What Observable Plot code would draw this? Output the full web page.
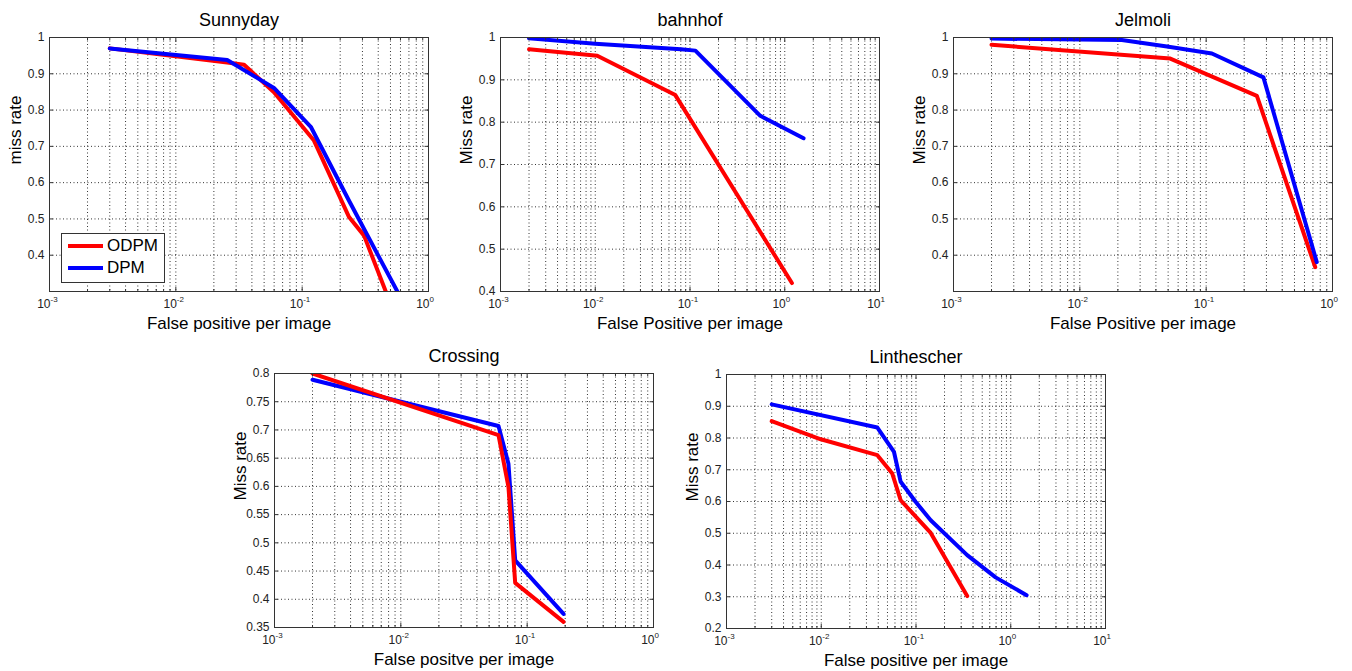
<!DOCTYPE html>
<html>
<head>
<meta charset="utf-8">
<script src="https://cdn.jsdelivr.net/npm/d3@7"></script>
<script src="https://cdn.jsdelivr.net/npm/@observablehq/plot@0.6"></script>
<style>
  html, body { margin: 0; padding: 0; background: #fff; }
  #root { position: relative; width: 1352px; height: 671px; overflow: hidden; font-family: "Liberation Sans", Arial, sans-serif; }
  .panel { position: absolute; }
  .legend { position: absolute; border: 1px solid #333; background: #fff; font-size: 17px; color: #000; }
  .legend .row { position: absolute; left: 6px; display: flex; align-items: center; }
  .legend .sw { width: 35px; height: 4px; margin-right: 4px; }
</style>
</head>
<body>
<div id="root"></div>
<script>
// ---------- data ----------
const series = ["ODPM", "DPM"];
const seriesColors = ["#ff0000", "#0000ff"];

const sunnyTitle = "Sunnyday";
const sunnyYTicks = [0.4, 0.5, 0.6, 0.7, 0.8, 0.9, 1];
const sunnyOdpmX = [0.003, 0.0255, 0.0347, 0.0598, 0.124, 0.235, 0.309, 0.459];
const sunnyOdpmY = [0.970, 0.931, 0.925, 0.849, 0.716, 0.505, 0.454, 0.300];
const sunnyDpmX = [0.003, 0.0255, 0.0598, 0.117, 0.235, 0.567];
const sunnyDpmY = [0.970, 0.938, 0.861, 0.754, 0.550, 0.300];

const bahnTitle = "bahnhof";
const bahnYTicks = [0.4, 0.5, 0.6, 0.7, 0.8, 0.9, 1];
const bahnOdpmX = [0.002, 0.0105, 0.070, 1.19];
const bahnOdpmY = [0.972, 0.957, 0.864, 0.420];
const bahnDpmX = [0.002, 0.01, 0.08, 0.114, 0.552, 1.58];
const bahnDpmY = [0.998, 0.985, 0.972, 0.969, 0.815, 0.762];

const jelTitle = "Jelmoli";
const jelYTicks = [0.4, 0.5, 0.6, 0.7, 0.8, 0.9, 1];
const jelOdpmX = [0.002, 0.052, 0.252, 0.73];
const jelOdpmY = [0.980, 0.942, 0.839, 0.367];
const jelDpmX = [0.002, 0.0215, 0.049, 0.111, 0.284, 0.751];
const jelDpmY = [0.997, 0.993, 0.975, 0.956, 0.890, 0.381];

const crossTitle = "Crossing";
const crossYTicks = [0.35, 0.4, 0.45, 0.5, 0.55, 0.6, 0.65, 0.7, 0.75, 0.8];
const crossOdpmX = [0.002, 0.0593, 0.0711, 0.0804, 0.194];
const crossOdpmY = [0.800, 0.691, 0.599, 0.429, 0.360];
const crossDpmX = [0.002, 0.0593, 0.0711, 0.0804, 0.194];
const crossDpmY = [0.789, 0.707, 0.640, 0.469, 0.374];

const linTitle = "Linthescher";
const linYTicks = [0.2, 0.3, 0.4, 0.5, 0.6, 0.7, 0.8, 0.9, 1];
const linOdpmX = [0.003, 0.0099, 0.0391, 0.0562, 0.0689, 0.143, 0.347];
const linOdpmY = [0.853, 0.796, 0.746, 0.688, 0.604, 0.501, 0.302];
const linDpmX = [0.003, 0.0391, 0.0586, 0.0689, 0.099, 0.143, 0.347, 0.692, 1.47];
const linDpmY = [0.906, 0.833, 0.756, 0.662, 0.599, 0.541, 0.431, 0.361, 0.305];

// ---------- layout ----------
const FW = 379, FH = 254, mL = 55, mT = 30, mR = 12, mB = 42;
const panels = [
  {title: sunnyTitle, ylabel: "miss rate", xlabel: "False positive per image", xdom: [1e-3, 1], ydom: [0.3, 1], yticks: sunnyYTicks,
   lines: [[sunnyOdpmX, sunnyOdpmY, 0], [sunnyDpmX, sunnyDpmY, 1]], L: 49, T: 37},
  {title: bahnTitle, ylabel: "Miss rate", xlabel: "False Positive per image", xdom: [1e-3, 10], ydom: [0.4, 1], yticks: bahnYTicks,
   lines: [[bahnOdpmX, bahnOdpmY, 0], [bahnDpmX, bahnDpmY, 1]], L: 500, T: 37},
  {title: jelTitle, ylabel: "Miss rate", xlabel: "False Positive per image", xdom: [1e-3, 1], ydom: [0.3, 1], yticks: jelYTicks,
   lines: [[jelOdpmX, jelOdpmY, 0], [jelDpmX, jelDpmY, 1]], L: 953, T: 37},
  {title: crossTitle, ylabel: "Miss rate", xlabel: "False positve per image", xdom: [1e-3, 1], ydom: [0.35, 0.8], yticks: crossYTicks,
   lines: [[crossDpmX, crossDpmY, 1], [crossOdpmX, crossOdpmY, 0]], L: 274, T: 373},
  {title: linTitle, ylabel: "Miss rate", xlabel: "False positive per image", xdom: [1e-3, 10], ydom: [0.2, 1], yticks: linYTicks,
   lines: [[linOdpmX, linOdpmY, 0], [linDpmX, linDpmY, 1]], L: 726, T: 374}
];

const root = document.getElementById("root");
const ink = "#222";
const axisInk = "#333";
const gridStyle = {stroke: "#000", strokeOpacity: 0.8, strokeDasharray: "1,2.5", strokeWidth: 1};
const fmtY = d => String(+d.toFixed(2));

function makePanel(p) {
  const e0 = Math.round(Math.log10(p.xdom[0])), e1 = Math.round(Math.log10(p.xdom[1]));
  const majors = d3.range(e0, e1 + 1).map(e => Math.pow(10, e));
  const minors = [];
  for (let e = e0; e < e1; e++) for (let k = 2; k <= 9; k++) minors.push(k * Math.pow(10, e));
  const gridXs = minors.concat(majors.slice(1, -1));
  const gridYs = p.yticks.filter(v => v > p.ydom[0] && v < p.ydom[1]);

  const lineMarks = p.lines.map(([xs, ys, si]) =>
    Plot.line(xs.map((x, i) => ({x, y: ys[i], s: series[si]})),
      {x: "x", y: "y", stroke: seriesColors[si], strokeWidth: 4, clip: true, strokeLinejoin: "round"}));

  const tickOpts = {tickFormat: () => "", stroke: axisInk, fill: "none", label: null};
  const svg = Plot.plot({
    width: mL + FW + mR,
    height: mT + FH + mB,
    marginLeft: mL, marginRight: mR, marginTop: mT, marginBottom: mB,
    style: {fontFamily: "'Liberation Sans', Arial, sans-serif", background: "#fff", overflow: "visible"},
    x: {type: "log", domain: p.xdom, axis: null},
    y: {type: "linear", domain: p.ydom, axis: null},
    marks: [
      Plot.gridX(gridXs, gridStyle),
      Plot.gridY(gridYs, gridStyle),
      ...lineMarks,
      Plot.frame({stroke: axisInk, strokeWidth: 1}),
      Plot.axisX(majors, {anchor: "bottom", tickSize: -4, ...tickOpts}),
      Plot.axisX(majors, {anchor: "top", tickSize: -4, ...tickOpts}),
      Plot.axisX(minors, {anchor: "bottom", tickSize: -2, ...tickOpts}),
      Plot.axisX(minors, {anchor: "top", tickSize: -2, ...tickOpts}),
      Plot.axisY(p.yticks, {anchor: "left", tickSize: -4, ...tickOpts}),
      Plot.axisY(p.yticks, {anchor: "right", tickSize: -4, ...tickOpts}),
      Plot.axisY(p.yticks, {anchor: "left", tickSize: 0, tickPadding: 5, tickFormat: fmtY, fontSize: 12, fill: ink, label: null}),
      Plot.text(majors, {x: d => d, frameAnchor: "bottom", lineAnchor: "middle", text: () => "10", textAnchor: "end", dx: 1, dy: 13, fontSize: 12, fill: ink}),
      Plot.text(majors, {x: d => d, frameAnchor: "bottom", lineAnchor: "middle", text: d => String(Math.round(Math.log10(d))), textAnchor: "start", dx: 1, dy: 8, fontSize: 8, fill: ink}),
      Plot.text([p.xlabel], {text: d => d, frameAnchor: "bottom", lineAnchor: "middle", dy: 32, fontSize: 17, fill: "#000"}),
      Plot.text([p.ylabel], {text: d => d, frameAnchor: "left", lineAnchor: "middle", dx: -34, rotate: -90, fontSize: 17, fill: "#000"}),
      Plot.text([p.title], {text: d => d, frameAnchor: "top", lineAnchor: "middle", dy: -17, fontSize: 18, fill: "#000"})
    ]
  });
  const div = document.createElement("div");
  div.className = "panel";
  div.style.left = (p.L - mL) + "px";
  div.style.top = (p.T - mT) + "px";
  div.appendChild(svg);
  root.appendChild(div);
}

panels.forEach(makePanel);

// legend for the first panel
const legend = document.createElement("div");
legend.className = "legend";
legend.style.left = "61px"; legend.style.top = "233px";
legend.style.width = "102px"; legend.style.height = "48px";
series.forEach((name, i) => {
  const row = document.createElement("div");
  row.className = "row";
  row.style.top = (i === 0 ? 2 : 24) + "px";
  const sw = document.createElement("div");
  sw.className = "sw";
  sw.style.background = seriesColors[i];
  const label = document.createElement("span");
  label.textContent = name;
  row.appendChild(sw); row.appendChild(label);
  legend.appendChild(row);
});
root.appendChild(legend);
</script>
</body>
</html>
